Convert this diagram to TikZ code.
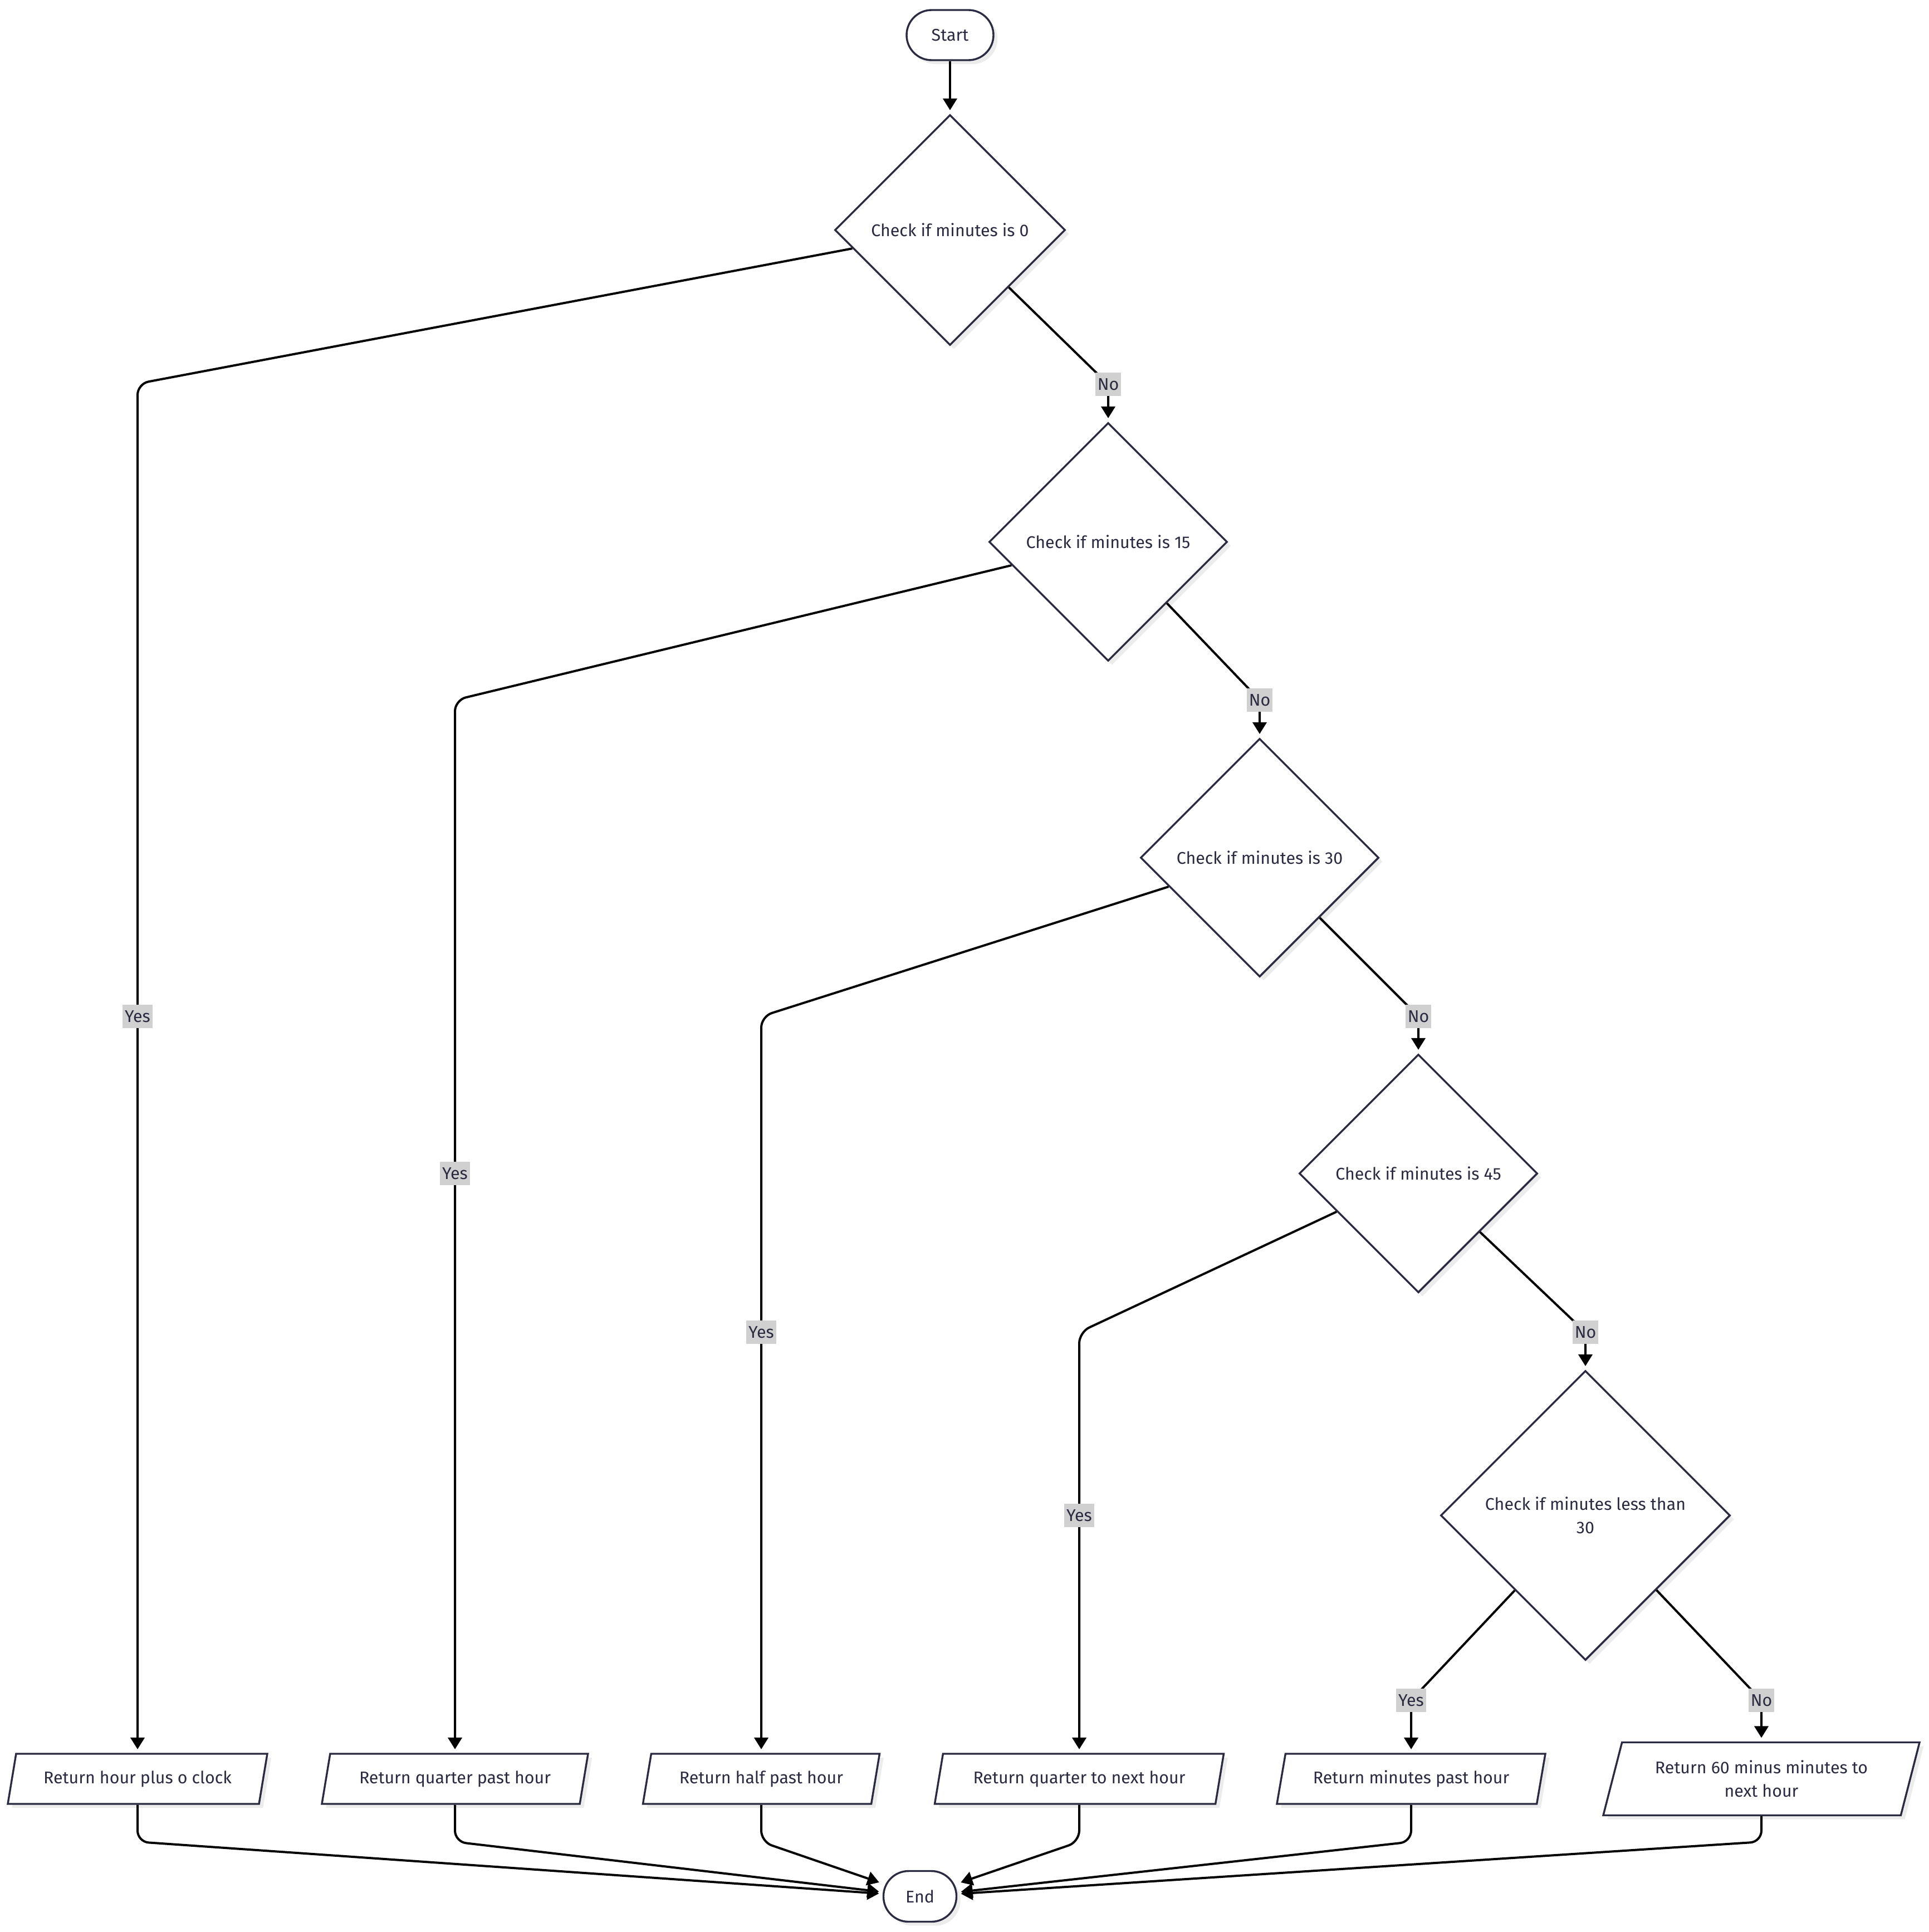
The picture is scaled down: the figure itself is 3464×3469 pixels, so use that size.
\documentclass[tikz,border=0pt]{standalone}
\usepackage{fontspec}
\setmainfont{Fira Sans}
\usetikzlibrary{shapes.geometric,arrows.meta,shadows}
\definecolor{nodeline}{RGB}{42,42,64}
\definecolor{nodetext}{RGB}{42,42,64}
\definecolor{lblbg}{RGB}{208,208,208}
\definecolor{shadowc}{RGB}{236,236,236}
\begin{document}
\begin{tikzpicture}[x=0.25pt,y=-0.25pt,
  every node/.style={font=\fontsize{7.6}{10.5}\selectfont, text=nodetext},
  base/.style={draw=nodeline, line width=0.85pt, fill=white,
    drop shadow={shadow xshift=1.8pt, shadow yshift=-1.8pt, fill=shadowc, opacity=1}},
  term/.style={base, rectangle, rounded corners=11.25pt, minimum height=22.5pt, inner sep=0pt},
  decision/.style={base, diamond, inner sep=0pt, align=center},
  io/.style={base, trapezium, trapezium left angle=63, trapezium right angle=117,
    trapezium stretches body, inner sep=0pt, align=center, minimum height=22.5pt},
  lbl/.style={fill=lblbg, inner xsep=1pt, inner ysep=0pt, minimum height=10.5pt},
  conn/.style={draw=black, line width=1pt, rounded corners=5pt,
    -{Triangle[length=5.25pt,width=6.25pt]}, shorten >=1.6pt},
]
\useasboundingbox (0,0) rectangle (3464,3469);

% nodes
\node[term, minimum width=39pt] (start) at (1706,63) {Start};
\node[decision, minimum width=103.5pt, minimum height=103.5pt] (d1) at (1706,413) {Check if minutes is 0};
\node[decision, minimum width=107pt, minimum height=107pt] (d2) at (1990,973) {Check if minutes is 15};
\node[decision, minimum width=107pt, minimum height=107pt] (d3) at (2262,1540) {Check if minutes is 30};
\node[decision, minimum width=107pt, minimum height=107pt] (d4) at (2547,2107) {Check if minutes is 45};
\node[decision, minimum width=130pt, minimum height=130pt] (d5) at (2847,2721) {Check if minutes less than\\30};
\node[io, minimum width=116.5pt] (o1) at (247,3194) {Return hour plus o clock};
\node[io, minimum width=119.5pt] (o2) at (817,3194) {Return quarter past hour};
\node[io, minimum width=106.25pt] (o3) at (1367,3194) {Return half past hour};
\node[io, minimum width=129.75pt] (o4) at (1938,3194) {Return quarter to next hour};
\node[io, minimum width=120.5pt] (o5) at (2534,3194) {Return minutes past hour};
\node[io, minimum width=142pt, minimum height=32.75pt] (o6) at (3163,3194) {Return 60 minus minutes to\\next hour};
\node[term, minimum width=32.75pt, minimum height=22.75pt] (end) at (1652,3405) {End};

% routing points
\coordinate (n1) at (1990,690);
\coordinate (n2) at (2262,1257);
\coordinate (n3) at (2547,1825);
\coordinate (n4) at (2847,2392);
\coordinate (n5) at (3163,3053);
\coordinate (y1c) at (247,689);
\coordinate (y2c) at (817,1257);
\coordinate (y3c) at (1367,1825);
\coordinate (y4c) at (1938,2392);
\coordinate (y5) at (2534,3053);
\coordinate (y1) at (247,1825);
\coordinate (y2) at (817,2107);
\coordinate (y3) at (1367,2392);
\coordinate (y4) at (1938,2721);
\coordinate (b1) at (247,3307);
\coordinate (b2) at (817,3307);
\coordinate (b3) at (1367,3307);
\coordinate (b4) at (1938,3307);
\coordinate (b5) at (2534,3307);
\coordinate (b6) at (3163,3307);

% connectors
\draw[conn] (start) -- (d1);
\draw[conn] (d1) -- (n1) -- (d2.north);
\draw[conn] (d2) -- (n2) -- (d3.north);
\draw[conn] (d3) -- (n3) -- (d4.north);
\draw[conn] (d4) -- (n4) -- (d5.north);
\draw[conn] (d5) -- (n5) -- (o6.north);
\draw[conn] (d1) -- (y1c) -- (o1.north);
\draw[conn] (d2) -- (y2c) -- (o2.north);
\draw[conn] (d3) -- (y3c) -- (o3.north);
\draw[conn] (d4) -- (y4c) -- (o4.north);
\draw[conn] (d5) -- (y5) -- (o5.north);
\draw[conn] (o1.south) -- (b1) -- (end);
\draw[conn] (o2.south) -- (b2) -- (end);
\draw[conn] (o3.south) -- (b3) -- (end);
\draw[conn] (o4.south) -- (b4) -- (end);
\draw[conn] (o5.south) -- (b5) -- (end);
\draw[conn] (o6.south) -- (b6) -- (end);

% edge labels
\node[lbl] (ln1) at (n1) {No};
\node[lbl] (ln2) at (n2) {No};
\node[lbl] (ln3) at (n3) {No};
\node[lbl] (ln4) at (n4) {No};
\node[lbl] (ln5) at (n5) {No};
\node[lbl] (ly1) at (y1) {Yes};
\node[lbl] (ly2) at (y2) {Yes};
\node[lbl] (ly3) at (y3) {Yes};
\node[lbl] (ly4) at (y4) {Yes};
\node[lbl] (ly5) at (y5) {Yes};
\end{tikzpicture}
\end{document}
